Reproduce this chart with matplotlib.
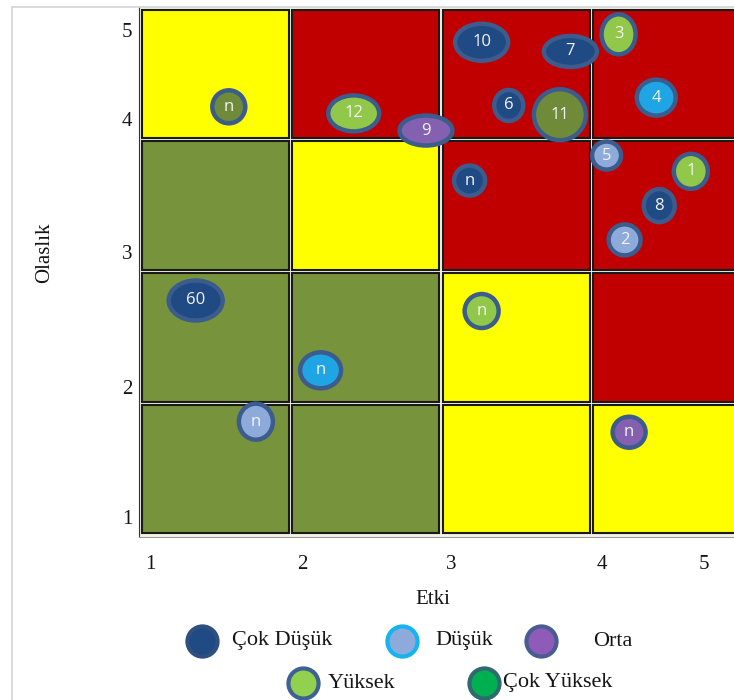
import matplotlib.pyplot as plt
from matplotlib.patches import Ellipse, Rectangle
from matplotlib.lines import Line2D

# risk items: etki (x), olasilik (y)
labels = ["n", "12", "9", "10", "7", "3", "4", "6", "11", "5",
          "1", "8", "2", "n", "60", "n", "n", "n", "n"]
etki = [1.59, 2.42, 2.90, 3.27, 3.86, 4.18, 4.43, 3.45, 3.79, 4.10,
        4.66, 4.45, 4.22, 3.19, 1.37, 3.27, 2.20, 1.77, 4.25]
olasilik = [4.25, 4.20, 4.07, 4.74, 4.67, 4.80, 4.32, 4.26, 4.19, 3.88,
            3.76, 3.50, 3.24, 3.69, 2.78, 2.70, 2.25, 1.86, 1.78]
seviye = ["zeytin", "Yüksek", "Orta", "Çok Düşük", "Çok Düşük", "Yüksek", "mavi",
          "Çok Düşük", "zeytin", "Düşük", "Yüksek", "Çok Düşük", "Düşük",
          "Çok Düşük", "Çok Düşük", "Yüksek", "mavi", "Düşük", "Orta"]

# bubble outer sizes in pixels
bubble_w = [37, 55, 57, 57, 57, 38, 43, 33, 56, 33, 38, 35, 36, 35, 58, 38, 45, 38, 37]
bubble_h = [37, 40, 34, 41, 35, 44, 40, 35, 55, 32, 39, 37, 35, 34, 44, 38, 40, 40, 35]

# matrix cell colours, bottom row first
cells = [
    ["olive", "olive", "yellow", "yellow"],
    ["olive", "olive", "yellow", "red"],
    ["olive", "yellow", "red", "red"],
    ["yellow", "red", "red", "red"],
]
cell_colors = {"olive": "#77933C", "yellow": "#FFFF00", "red": "#C00000"}

fills = {
    "Çok Düşük": "#1F4A84",
    "Düşük": "#8EAADB",
    "Orta": "#8461B0",
    "Yüksek": "#92C84A",
    "Çok Yüksek": "#00B050",
    "mavi": "#1FA5E3",
    "zeytin": "#6F8B3A",
}
EDGE = "#3B5C8C"
TEXT = "#151515"

xtick_pos = [1.07, 2.08, 3.07, 4.07, 4.75]
ytick_pos = [1.14, 2.12, 3.15, 4.16, 4.83]
tick_labels = ["1", "2", "3", "4", "5"]

W, H = 734, 700
PX_X, PX_Y = 150.5, 131.75

fig = plt.figure(figsize=(W / 100, H / 100), dpi=100)
fig.patch.set_facecolor("white")

# thin panel frame
fig.add_artist(Line2D([12 / W, 12 / W], [0, 1 - 7 / H], color="#D4D4D4", lw=1.2))
fig.add_artist(Line2D([12 / W, 1], [1 - 7 / H, 1 - 7 / H], color="#D4D4D4", lw=1.2))

ax = fig.add_axes([139 / W, 1 - 537 / H, (W - 139) / W, 530 / H])
ax.set_facecolor("#F2F2E6")
ax.set_xlim(1 - 1 / PX_X, 1 + (W - 140) / PX_X)
ax.set_ylim(1 - 2 / PX_Y, 1 + 528 / PX_Y)
for s in ["top", "right"]:
    ax.spines[s].set_visible(False)
ax.spines["left"].set_color("#333333")
ax.spines["bottom"].set_color("#9A9A9A")

gx, gy = 1.6 / PX_X, 1.6 / PX_Y
for r, row in enumerate(cells):
    for c, name in enumerate(row):
        ax.add_patch(Rectangle((1 + c + gx, 1 + r + gy), 1 - 2 * gx, 1 - 2 * gy,
                               facecolor=cell_colors[name], edgecolor="#1A1A1A",
                               lw=1.5, zorder=1))

for i in range(len(labels)):
    ew = (bubble_w[i] - 4) / PX_X
    eh = (bubble_h[i] - 4) / PX_Y
    ax.add_patch(Ellipse((etki[i], olasilik[i]), ew, eh, facecolor=fills[seviye[i]],
                         edgecolor=EDGE, lw=3.2, zorder=3))
    ax.text(etki[i], olasilik[i], labels[i], color="#F4F4F4", ha="center", va="center",
            fontsize=12, family="Open Sans", zorder=4)

ax.set_xticks(xtick_pos)
ax.set_xticklabels(tick_labels)
ax.set_yticks(ytick_pos)
ax.set_yticklabels(tick_labels)
ax.tick_params(axis="both", length=0, labelsize=15, colors=TEXT)
ax.tick_params(axis="x", pad=13)
ax.tick_params(axis="y", pad=5)
for t in ax.get_xticklabels() + ax.get_yticklabels():
    t.set_family("Liberation Serif")

fig.text(433 / W, 1 - 600 / H, "Etki", ha="center", va="center",
         family="Liberation Serif", fontsize=15, color=TEXT)
fig.text(45 / W, 1 - 253 / H, "Olaslık", ha="center", va="center", rotation=90,
         family="Liberation Serif", fontsize=15, color=TEXT)

# legend, drawn on its own overlay in pixel units
lax = fig.add_axes([0, 0, 1, 1], facecolor="none")
lax.set_xlim(0, W)
lax.set_ylim(H, 0)
lax.axis("off")
legend_items = [
    ("Çok Düşük", "#1F4A84", "#2E4F80", 202, 641, 232),
    ("Düşük", "#8EAADB", "#14B4F0", 402, 641, 435),
    ("Orta", "#8E5CB8", "#4A5C92", 541, 641, 593),
    ("Yüksek", "#92D050", "#3F6292", 303, 683, 328),
    ("Çok Yüksek", "#00B050", "#2E6A70", 484, 683, 503),
]
for name, fc, ec, mx, my, tx in legend_items:
    lax.scatter([mx], [my], s=470, facecolor=fc, edgecolor=ec, linewidths=3)
    lax.text(tx, my, name, ha="left", va="center", family="Liberation Serif",
             fontsize=16, color=TEXT)

fig.savefig("out.png", dpi=100)
